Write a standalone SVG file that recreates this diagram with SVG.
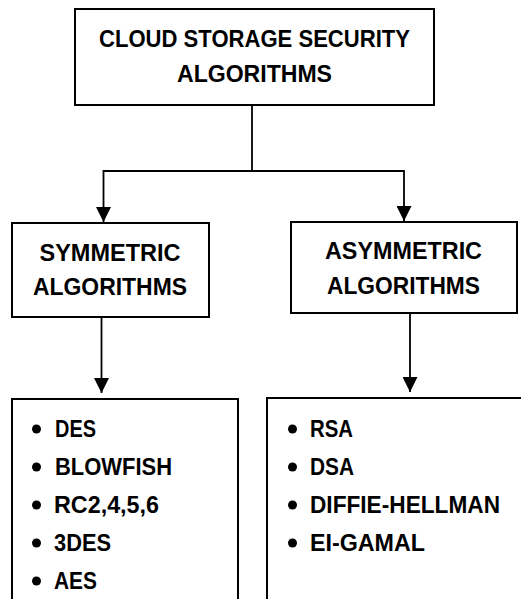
<svg xmlns="http://www.w3.org/2000/svg" width="521" height="599" viewBox="0 0 521 599">
<style>
.box{fill:#fff;stroke:#000;stroke-width:2}
.t{font-family:"Liberation Sans",Arial,sans-serif;font-weight:bold;font-size:23px;fill:#000}
.c{text-anchor:middle}
.ln{fill:none;stroke:#000;stroke-width:1.8}
.b{fill:#000}
</style>
<defs>
<marker id="ah" markerUnits="userSpaceOnUse" markerWidth="16" markerHeight="15" refX="15" refY="7.5" orient="auto">
<path d="M0,0 L15,7.5 L0,15 Z" fill="#000"/>
</marker>
</defs>
<rect width="521" height="599" fill="#fff"/>
<g id="connectors">
<path class="ln" d="M252,105 V171"/>
<path class="ln" d="M103.5,171 H404"/>
<path class="ln" d="M103.5,170 V222" marker-end="url(#ah)"/>
<path class="ln" d="M404,170 V221" marker-end="url(#ah)"/>
<path class="ln" d="M101.5,317 V393" marker-end="url(#ah)"/>
<path class="ln" d="M410,313 V392" marker-end="url(#ah)"/>
</g>
<g id="root">
<rect class="box" x="75" y="9" width="359" height="96"/>
<text class="t c" x="254.5" y="47" textLength="311" lengthAdjust="spacingAndGlyphs">CLOUD STORAGE SECURITY</text>
<text class="t c" x="254.5" y="82" textLength="155" lengthAdjust="spacingAndGlyphs">ALGORITHMS</text>
</g>
<g id="symmetric">
<rect class="box" x="12" y="223" width="197" height="94"/>
<text class="t c" x="110" y="261" textLength="141" lengthAdjust="spacingAndGlyphs">SYMMETRIC</text>
<text class="t c" x="110" y="295" textLength="154" lengthAdjust="spacingAndGlyphs">ALGORITHMS</text>
</g>
<g id="asymmetric">
<rect class="box" x="291" y="222" width="226" height="91"/>
<text class="t c" x="403.5" y="259" textLength="157" lengthAdjust="spacingAndGlyphs">ASYMMETRIC</text>
<text class="t c" x="403.5" y="294" textLength="153" lengthAdjust="spacingAndGlyphs">ALGORITHMS</text>
</g>
<g id="symmetric-list">
<rect class="box" x="12" y="399" width="226" height="220"/>
<circle class="b" cx="36.5" cy="429" r="4.5"/><text class="t" x="55" y="437" textLength="41" lengthAdjust="spacingAndGlyphs">DES</text>
<circle class="b" cx="36.5" cy="467" r="4.5"/><text class="t" x="55" y="475" textLength="117" lengthAdjust="spacingAndGlyphs">BLOWFISH</text>
<circle class="b" cx="36.5" cy="505" r="4.5"/><text class="t" x="54" y="513" textLength="105" lengthAdjust="spacingAndGlyphs">RC2,4,5,6</text>
<circle class="b" cx="36.5" cy="543" r="4.5"/><text class="t" x="54" y="551" textLength="57" lengthAdjust="spacingAndGlyphs">3DES</text>
<circle class="b" cx="36.5" cy="581" r="4.5"/><text class="t" x="54" y="589" textLength="43" lengthAdjust="spacingAndGlyphs">AES</text>
</g>
<g id="asymmetric-list">
<rect class="box" x="267" y="398" width="270" height="220"/>
<circle class="b" cx="292.5" cy="429" r="4.5"/><text class="t" x="310" y="437" textLength="43" lengthAdjust="spacingAndGlyphs">RSA</text>
<circle class="b" cx="292.5" cy="467" r="4.5"/><text class="t" x="310" y="475" textLength="44" lengthAdjust="spacingAndGlyphs">DSA</text>
<circle class="b" cx="292.5" cy="505" r="4.5"/><text class="t" x="310" y="513" textLength="190" lengthAdjust="spacingAndGlyphs">DIFFIE-HELLMAN</text>
<circle class="b" cx="292.5" cy="543" r="4.5"/><text class="t" x="310" y="551" textLength="115" lengthAdjust="spacingAndGlyphs">EI-GAMAL</text>
</g>
</svg>
